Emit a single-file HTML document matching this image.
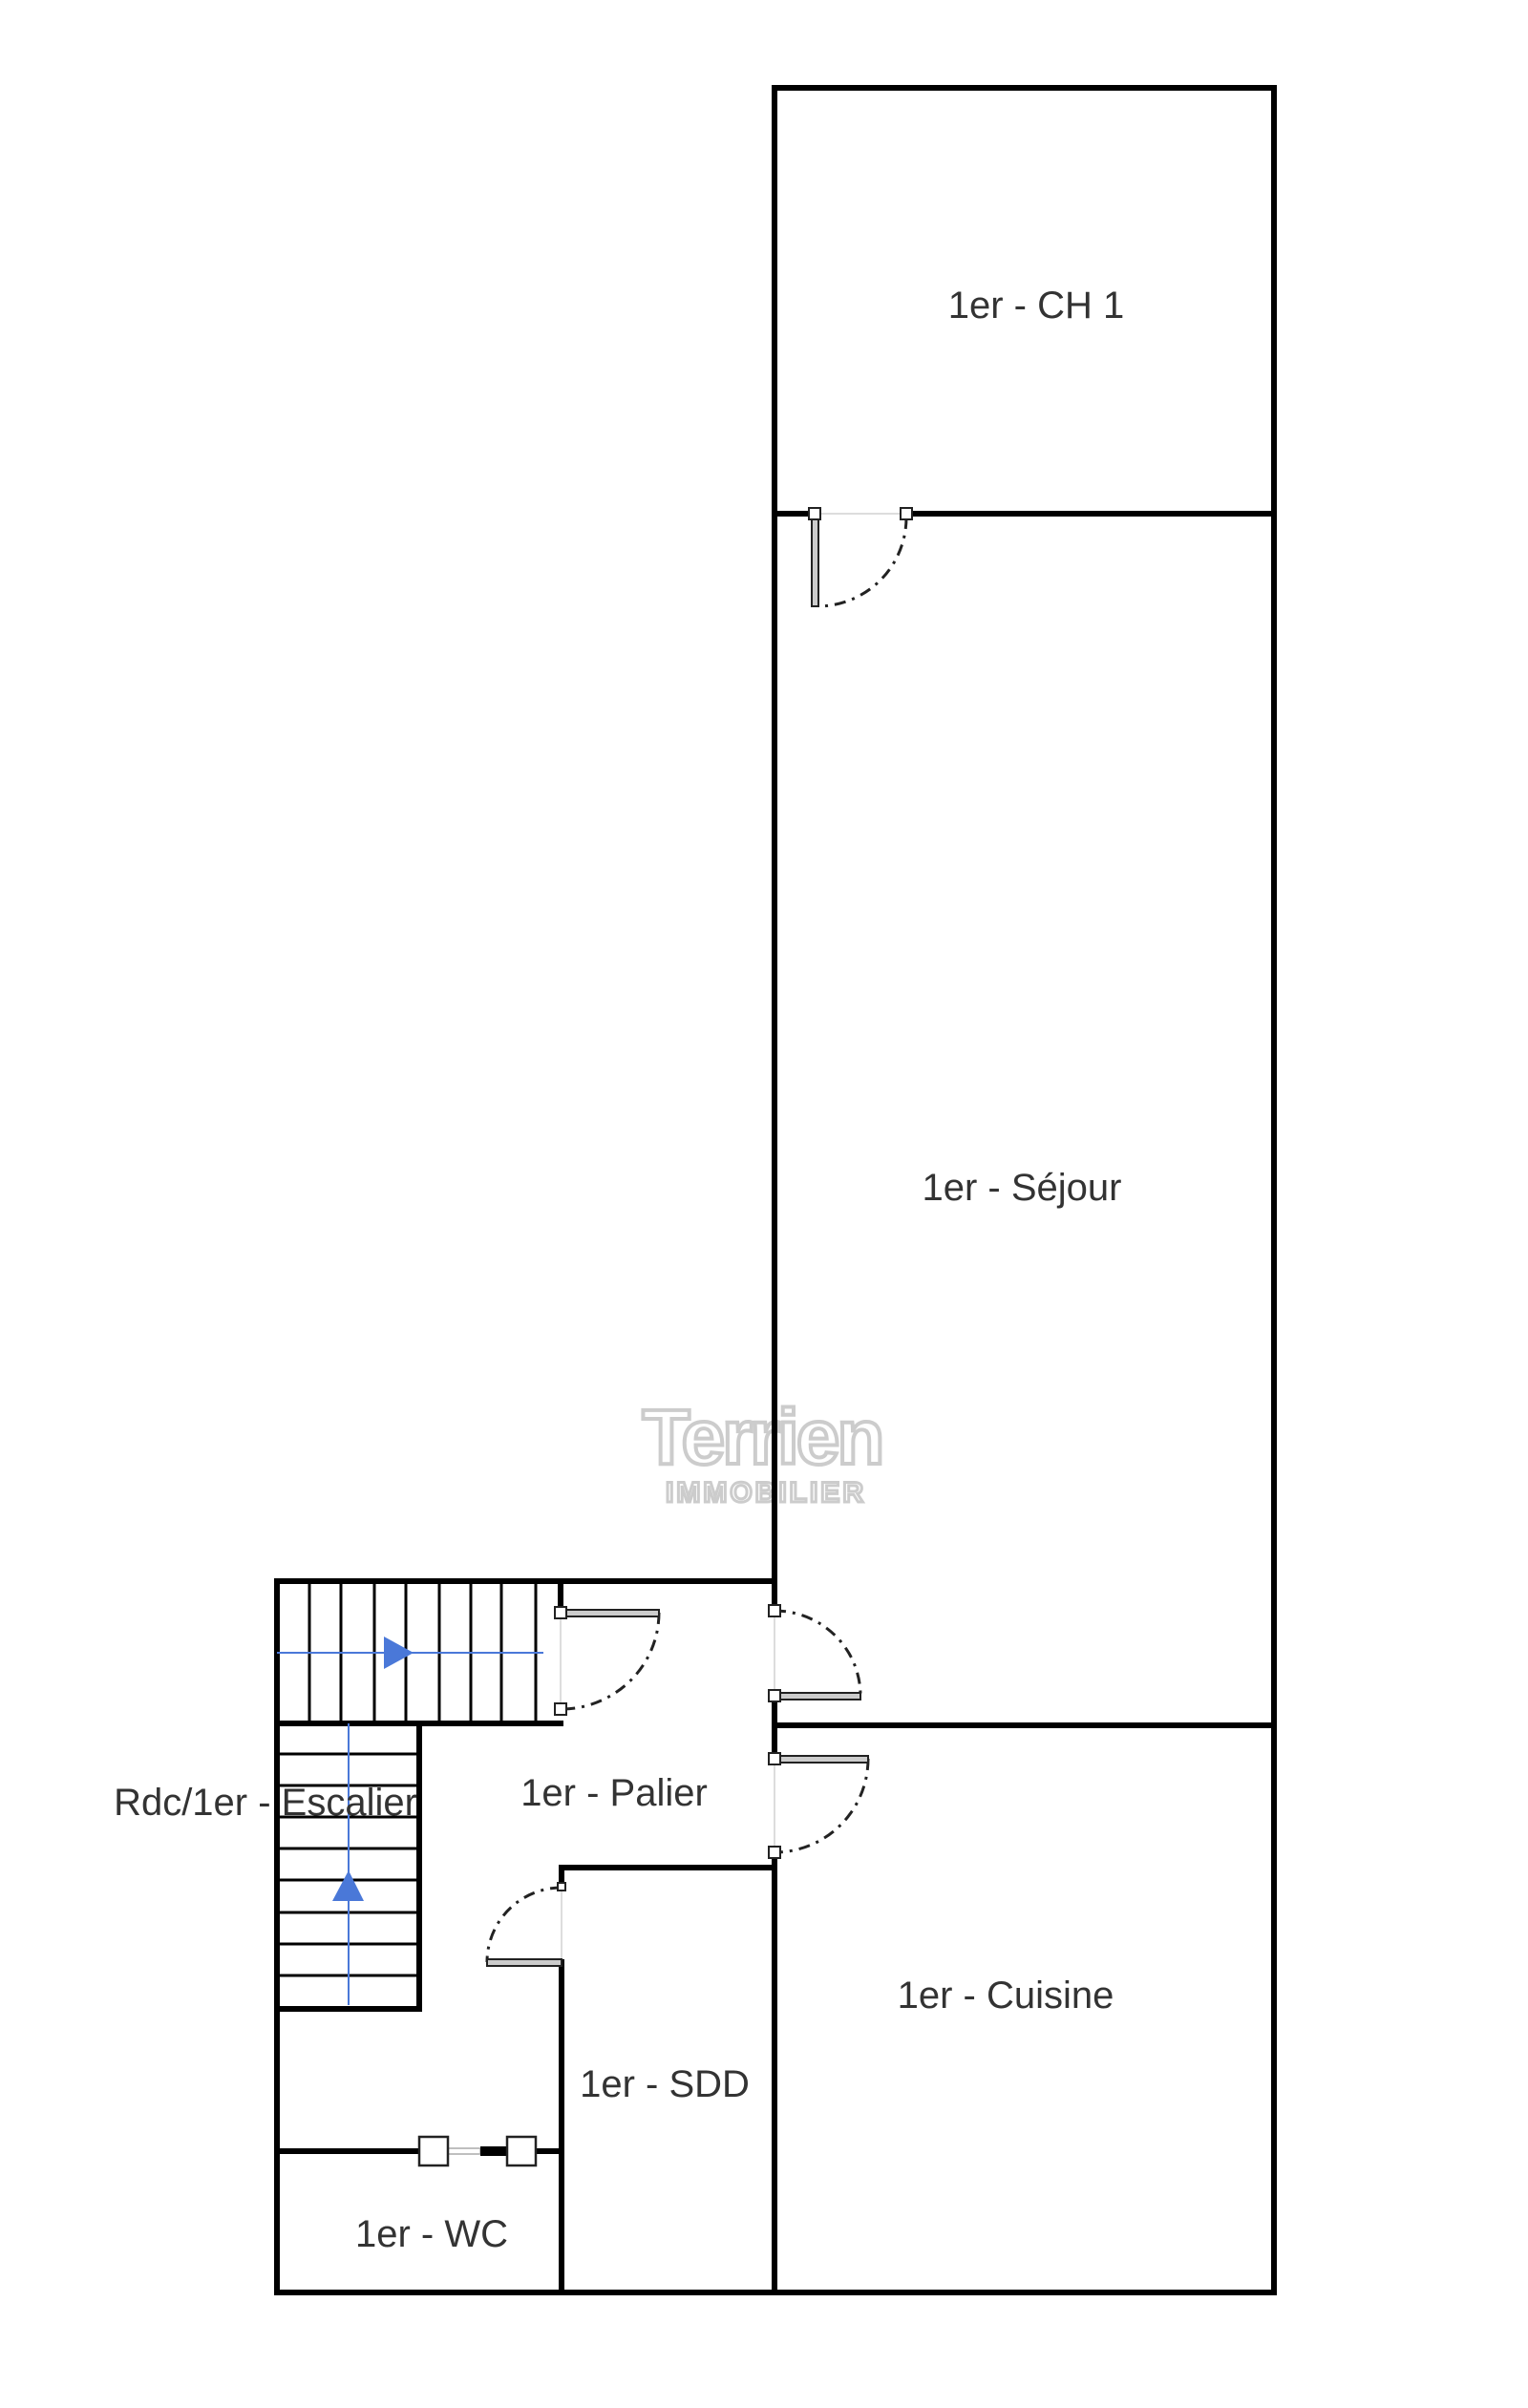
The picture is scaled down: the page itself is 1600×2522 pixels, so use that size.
<!DOCTYPE html>
<html><head><meta charset="utf-8"><style>
html,body{margin:0;padding:0;background:#fff}
svg{display:block}
text{font-family:"Liberation Sans","DejaVu Sans",sans-serif;fill:#333}
</style></head><body>
<svg width="1600" height="2522" viewBox="0 0 1600 2522" xmlns="http://www.w3.org/2000/svg">
<rect width="1600" height="2522" fill="#fff"/>
<text x="798" y="1533" text-anchor="middle" font-size="82" font-weight="bold" style="fill:#fff;stroke:#ccc;stroke-width:4;letter-spacing:-3px">Terrien</text>
<text x="802" y="1573" text-anchor="middle" font-size="30" font-weight="bold" style="fill:#fff;stroke:#ccc;stroke-width:3;letter-spacing:3px">IMMOBILIER</text>

<g stroke="#000" stroke-width="6" fill="none" stroke-linecap="square">
<line x1="811" y1="92" x2="1334" y2="92"/>
<line x1="1334" y1="92" x2="1334" y2="2401"/>
<line x1="290" y1="2401" x2="1334" y2="2401"/>
<line x1="811" y1="92" x2="811" y2="1687"/>
<line x1="811" y1="538" x2="853" y2="538"/>
<line x1="949" y1="538" x2="1334" y2="538"/>
<line x1="290" y1="1656" x2="811" y2="1656"/>
<line x1="290" y1="1656" x2="290" y2="2401"/>
<line x1="587" y1="1656" x2="587" y2="1689"/>
<line x1="811" y1="1776" x2="811" y2="1842"/>
<line x1="811" y1="1807" x2="1334" y2="1807"/>
<line x1="811" y1="1940" x2="811" y2="2401"/>
<line x1="588" y1="1956" x2="811" y2="1956"/>
<line x1="588" y1="1956" x2="588" y2="1977"/>
<line x1="588" y1="2055" x2="588" y2="2401"/>
<line x1="290" y1="1805" x2="587" y2="1805"/>
<line x1="439" y1="1805" x2="439" y2="2104"/>
<line x1="290" y1="2104" x2="439" y2="2104"/>
<line x1="290" y1="2253" x2="439" y2="2253"/>
<line x1="561" y1="2253" x2="588" y2="2253"/>
</g>
<g stroke="#000" stroke-width="3">
<line x1="324" y1="1656" x2="324" y2="1805"/>
<line x1="357" y1="1656" x2="357" y2="1805"/>
<line x1="392" y1="1656" x2="392" y2="1805"/>
<line x1="425" y1="1656" x2="425" y2="1805"/>
<line x1="460" y1="1656" x2="460" y2="1805"/>
<line x1="493" y1="1656" x2="493" y2="1805"/>
<line x1="525" y1="1656" x2="525" y2="1805"/>
<line x1="561" y1="1656" x2="561" y2="1805"/>
<line x1="290" y1="1837" x2="439" y2="1837"/>
<line x1="290" y1="1870" x2="439" y2="1870"/>
<line x1="290" y1="1903" x2="439" y2="1903"/>
<line x1="290" y1="1936" x2="439" y2="1936"/>
<line x1="290" y1="1969" x2="439" y2="1969"/>
<line x1="290" y1="2003" x2="439" y2="2003"/>
<line x1="290" y1="2036" x2="439" y2="2036"/>
<line x1="290" y1="2069" x2="439" y2="2069"/>
</g>
<g stroke="#4a78d8" stroke-width="2">
<line x1="290" y1="1731" x2="569" y2="1731"/>
<line x1="365" y1="1805" x2="365" y2="2100"/>
</g>
<polygon points="402,1714 433,1731 402,1748" fill="#4a78d8"/>
<polygon points="365,1959 381,1991 348,1991" fill="#4a78d8"/>

<g stroke="#ddd" stroke-width="2">
<line x1="853" y1="538" x2="949" y2="538"/>
<line x1="587" y1="1689" x2="587" y2="1790"/>
<line x1="811" y1="1687" x2="811" y2="1776"/>
<line x1="811" y1="1842" x2="811" y2="1940"/>
<line x1="588" y1="1977" x2="588" y2="2055"/>
</g>
<g stroke="#222" stroke-width="3" fill="none" stroke-dasharray="12,7,3,7">
<path d="M949,542 A93,93 0 0 1 857,635"/>
<path d="M690,1689 A103,101 0 0 1 591,1790"/>
<path d="M811,1687 A90,89 0 0 1 901,1776"/>
<path d="M909,1842 A98,98 0 0 1 811,1940"/>
<path d="M588,1977 A78,78 0 0 0 510,2055"/>
</g>
<g fill="#ccc" stroke="#222" stroke-width="2">
<rect x="850" y="538" width="7" height="97"/>
<rect x="587" y="1686" width="103" height="7"/>
<rect x="811" y="1773" width="90" height="7"/>
<rect x="811" y="1839" width="98" height="7"/>
<rect x="510" y="2052" width="78" height="7"/>
</g>
<g fill="#fff" stroke="#222" stroke-width="2">
<rect x="847" y="532" width="12" height="12"/>
<rect x="943" y="532" width="12" height="12"/>
<rect x="581" y="1683" width="12" height="12"/>
<rect x="581" y="1784" width="12" height="12"/>
<rect x="805" y="1681" width="12" height="12"/>
<rect x="805" y="1770" width="12" height="12"/>
<rect x="805" y="1836" width="12" height="12"/>
<rect x="805" y="1934" width="12" height="12"/>
<rect x="584" y="1972" width="8" height="8"/>
</g>
<rect x="469" y="2250" width="34" height="6" fill="#fff" stroke="#aaa" stroke-width="1.5"/>
<rect x="503" y="2248" width="28" height="10" fill="#000"/>
<rect x="439" y="2238" width="30" height="30" fill="#fff" stroke="#222" stroke-width="2.5"/>
<rect x="531" y="2238" width="30" height="30" fill="#fff" stroke="#222" stroke-width="2.5"/>

<g font-size="40" text-anchor="middle">
<text x="1085" y="333">1er - CH 1</text>
<text x="1070" y="1257">1er - Séjour</text>
<text x="643" y="1891">1er - Palier</text>
<text x="1053" y="2103">1er - Cuisine</text>
<text x="696" y="2196">1er - SDD</text>
<text x="452" y="2353">1er - WC</text>
<text x="278" y="1901">Rdc/1er - Escalier</text>
</g>
</svg>
</body></html>
